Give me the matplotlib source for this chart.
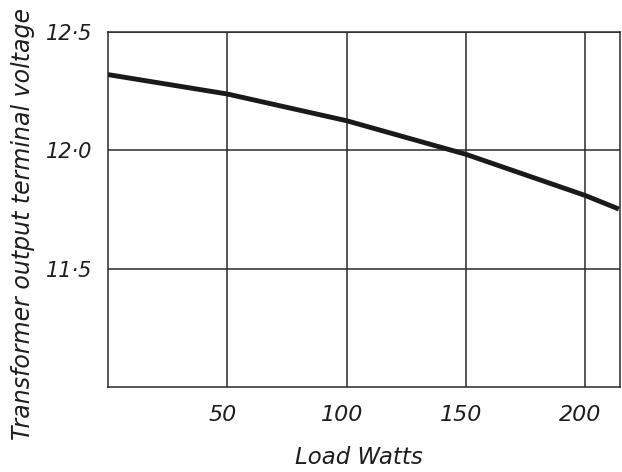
import matplotlib
matplotlib.use("Agg")
import matplotlib.pyplot as plt
import matplotlib.transforms as mtransforms

# load (W) vs output voltage
load_watts = [0, 50, 100, 150, 200, 214]
volts = [12.32, 12.238, 12.125, 11.983, 11.809, 11.752]

x_ticks = [50, 100, 150, 200]
x_labels = ["50", "100", "150", "200"]
y_ticks = [11.5, 12.0, 12.5]
y_labels = ["11·5", "12·0", "12·5"]

plt.rcParams['font.family'] = ['DejaVu Sans']

fig = plt.figure(figsize=(6.22, 4.72), dpi=100)
ax = fig.add_axes([108 / 622, 1 - 387 / 472, (620 - 108) / 622, (387 - 32) / 472])

ax.plot(load_watts, volts, color='#1a1a1a', linewidth=3.5, solid_capstyle='butt', zorder=3)

ax.set_xlim(0, 214.5)
ax.set_ylim(11.0, 12.5)
ax.set_xticks(x_ticks)
ax.set_xticklabels(x_labels, fontsize=16, style='italic')
ax.set_yticks(y_ticks)
ax.set_yticklabels(y_labels, fontsize=15, style='italic')
ax.tick_params(axis='x', length=0, pad=13, colors='#1e1e1e')
ax.tick_params(axis='y', length=0, pad=11, colors='#1e1e1e')

# hand lettered numbers sit a little left of their grid lines
shift = mtransforms.ScaledTranslation(-5 / 100, 0, fig.dpi_scale_trans)
for lbl in ax.get_xticklabels():
    lbl.set_transform(lbl.get_transform() + shift)

ax.grid(True, color='#2a2a2a', linewidth=1.1)
for s in ax.spines.values():
    s.set_color('#2a2a2a')
    s.set_linewidth(1.1)

ax.set_xlabel("Load Watts", fontsize=16.5, style='italic', color='#1e1e1e')
ax.xaxis.set_label_coords(0.49, -0.165)
ax.set_ylabel("Transformer output terminal voltage", fontsize=17, style='italic',
              color='#1e1e1e')
ax.yaxis.set_label_coords(-0.143, 0.46)

fig.savefig("out.png", dpi=100)
